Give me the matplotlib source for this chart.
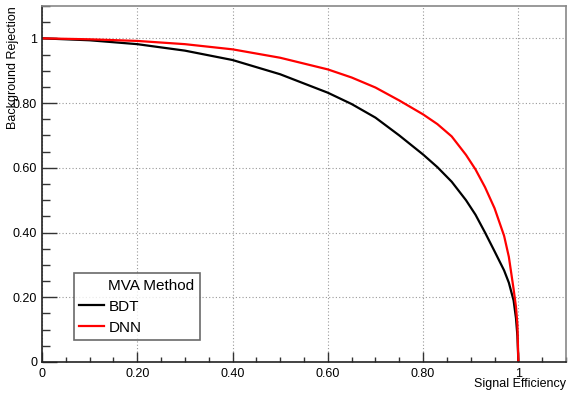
import matplotlib
matplotlib.use("Agg")
import matplotlib.pyplot as plt
from matplotlib.lines import Line2D
from matplotlib.ticker import MultipleLocator, FuncFormatter

plt.rcParams["font.family"] = ["Liberation Sans", "DejaVu Sans"]

# ROC curves
signal_eff = [0.0, 0.1, 0.2, 0.3, 0.4, 0.5, 0.6, 0.65, 0.7, 0.75, 0.8, 0.83, 0.86,
              0.89, 0.91, 0.93, 0.95, 0.97, 0.98, 0.99, 0.995, 0.998, 1.0]
bkg_rej_bdt = [1.0, 0.994, 0.982, 0.962, 0.933, 0.889, 0.832, 0.797, 0.755, 0.70,
               0.641, 0.602, 0.557, 0.50, 0.455, 0.40, 0.342, 0.283, 0.245, 0.19,
               0.135, 0.08, 0.0]
bkg_rej_dnn = [1.0, 0.997, 0.992, 0.982, 0.966, 0.940, 0.904, 0.879, 0.848, 0.808,
               0.765, 0.735, 0.697, 0.64, 0.595, 0.54, 0.475, 0.39, 0.325, 0.225,
               0.17, 0.115, 0.0]


def fmt(v, pos):
    if abs(v) < 1e-9:
        return "0"
    if abs(v - 1) < 1e-9:
        return "1"
    return "%.2f" % v


fig = plt.figure(figsize=(5.68, 3.98), dpi=100)
ax = fig.add_axes([0.0739, 0.0905, 0.9226, 0.8945])

ax.plot(signal_eff, bkg_rej_bdt, color="black", lw=1.6, label="BDT")
ax.plot(signal_eff, bkg_rej_dnn, color="#ff0000", lw=1.6, label="DNN")

ax.set_xlim(0, 1.1)
ax.set_ylim(0, 1.1)
ax.xaxis.set_major_locator(MultipleLocator(0.2))
ax.yaxis.set_major_locator(MultipleLocator(0.2))
ax.xaxis.set_minor_locator(MultipleLocator(0.05))
ax.yaxis.set_minor_locator(MultipleLocator(0.05))
ax.xaxis.set_major_formatter(FuncFormatter(fmt))
ax.yaxis.set_major_formatter(FuncFormatter(fmt))

ax.tick_params(axis="x", which="major", direction="in", length=7.2, width=1.0,
               color="#333333", labelsize=9, pad=4, top=False)
ax.tick_params(axis="x", which="minor", direction="in", length=3.6, width=1.0,
               color="#333333", top=False)
ax.tick_params(axis="y", which="major", direction="in", length=11, width=1.0,
               color="#333333", labelsize=9, pad=3.5, right=False)
ax.tick_params(axis="y", which="minor", direction="in", length=5.8, width=1.0,
               color="#333333", right=False)

ax.grid(True, which="major", linestyle=(0, (1, 2)), color="#999999", lw=0.8)

for s in ["left", "bottom"]:
    ax.spines[s].set_color("#222222")
    ax.spines[s].set_linewidth(1.2)
for s in ["top", "right"]:
    ax.spines[s].set_color("#888888")
    ax.spines[s].set_linewidth(1.2)

fig.text(0.996, 0.02, "Signal Efficiency", ha="right", va="bottom", fontsize=9)
fig.text(0.013, 0.985, "Background Rejection", ha="left", va="top",
         rotation=90, fontsize=9)

header = Line2D([], [], color="none")
bdt = Line2D([], [], color="black", lw=1.6)
dnn = Line2D([], [], color="#ff0000", lw=1.6)
leg = ax.legend([header, bdt, dnn], ["MVA Method", "BDT", "DNN"],
                loc="lower left", bbox_to_anchor=(0.061, 0.062), borderaxespad=0,
                fontsize=11, frameon=True, fancybox=False, handlelength=1.6,
                handletextpad=0.3, borderpad=0.35, labelspacing=0.45)
leg.get_frame().set_edgecolor("#444444")
leg.get_frame().set_linewidth(1.2)

fig.savefig("out.png", dpi=100)
